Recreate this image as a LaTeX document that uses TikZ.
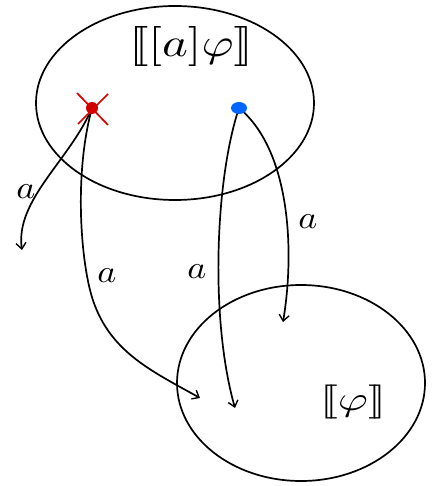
\documentclass[tikz,border=0pt]{standalone}
\usepackage{graphicx}
\usetikzlibrary{arrows.meta,shapes.geometric}
\newcommand{\lblA}{\scalebox{3.6}[3.2]{$a$}}
\begin{document}
\begin{tikzpicture}[x=1pt,y=-1pt,
  line width=1.7pt,
  arr/.style={-{Straight Barb[length=6pt,width=10pt,line width=1.4pt]}},
  lbl/.style={inner sep=0pt},
  world/.style={draw,ellipse,inner sep=0pt}]
\useasboundingbox (0,0) rectangle (438,486);
\node[world,minimum width=278pt,minimum height=194pt] (top) at (175,103) {};
\node[world,minimum width=248pt,minimum height=196pt] (bot) at (301,383) {};
\node[lbl] (tl) at (191,47) {\scalebox{4.9}[4.0]{$[\![ [a]\varphi ]\!]$}};
\node[lbl] (bl) at (353,402) {\scalebox{4.6}[3.4]{$[\![\varphi]\!]$}};
\coordinate (r) at (92,108);
\coordinate (b) at (239,108);
\coordinate (e1) at (22,250);
\coordinate (e2) at (200,398);
\coordinate (e3) at (235,408);
\coordinate (e4) at (283,322);
\draw[arr] (r) .. controls (70,160) and (15,200) .. (e1);
\draw[arr] (r) .. controls (75,170) and (80,250) .. (90,290) .. controls (105,350) and (150,370) .. (e2);
\draw[arr] (b) .. controls (215,180) and (210,320) .. (e3);
\draw[arr] (b) .. controls (290,150) and (295,250) .. (e4);
\fill[red!80!black] (r) circle (6);
\fill[blue!60!cyan] (b) ellipse [x radius=8, y radius=6];
\draw[red!85!black,line width=1.7pt] (77,93) -- (108,125) (108,94) -- (78,124);
\node[lbl] (l1) at (26,192) {\lblA};
\node[lbl] (l2) at (107,276) {\lblA};
\node[lbl] (l3) at (197,272) {\lblA};
\node[lbl] (l4) at (308,222) {\lblA};
\end{tikzpicture}
\end{document}
